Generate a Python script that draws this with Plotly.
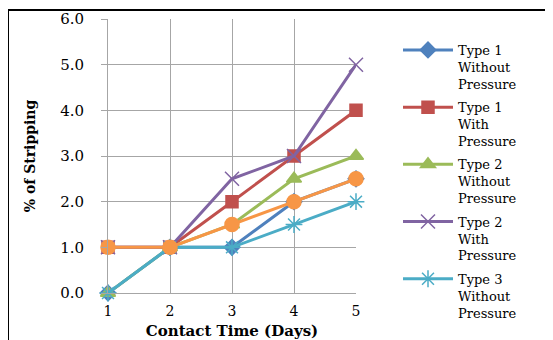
import plotly.graph_objects as go

days = [1, 2, 3, 4, 5]
type1_without = [0, 1, 1, 2, 2.5]
type1_with = [1, 1, 2, 3, 4]
type2_without = [0, 1, 1.5, 2.5, 3]
type2_with = [1, 1, 2.5, 3, 5]
type3_without = [0, 1, 1, 1.5, 2]
type3_with = [1, 1, 1.5, 2, 2.5]
y_ticks = [0, 1, 2, 3, 4, 5, 6]
y_labels = ["0.0", "1.0", "2.0", "3.0", "4.0", "5.0", "6.0"]

series = [
    ("Type 1<br>Without<br>Pressure", type1_without, "#4F81BD", "diamond", 12, True),
    ("Type 1<br>With<br>Pressure", type1_with, "#C0504D", "square", 12, True),
    ("Type 2<br>Without<br>Pressure", type2_without, "#9BBB59", "triangle-up", 13, True),
    ("Type 2<br>With<br>Pressure", type2_with, "#8064A2", "x-thin-open", 14, True),
    ("Type 3<br>Without<br>Pressure", type3_without, "#4BACC6", "asterisk-open", 14, True),
    ("Type 3<br>With<br>Pressure", type3_with, "#F79646", "circle", 14, False),
]

FONT = "DejaVu Serif"
fig = go.Figure()
for i, (name, vals, color, sym, size, show) in enumerate(series):
    fig.add_trace(go.Scatter(
        x=days, y=vals, name=name, mode="lines+markers", legendgroup=f"g{i}",
        line=dict(color=color, width=3),
        marker=dict(symbol=sym, size=size, color=color,
                    line=dict(color=color, width=1.5)),
        showlegend=show, cliponaxis=False,
    ))

# page body has an 8px margin: figure is 8px smaller, screen coords offset by 8
OFF = 8
FW, FH = 553 - OFF, 340 - OFF
L, T, W, H = 108, 19, 248, 274   # plot area in screen pixels


def px(xs):
    return (xs - L) / W


def py(ys):
    return (T + H - ys) / H


# black frame (top and left) of the cropped figure
fig.add_shape(type="line", xref="paper", yref="paper",
              x0=px(8), x1=px(553), y0=py(10), y1=py(10),
              line=dict(color="black", width=2))
fig.add_shape(type="line", xref="paper", yref="paper",
              x0=px(8), x1=px(8), y0=py(10), y1=py(340),
              line=dict(color="black", width=2))

fig.update_layout(
    width=FW, height=FH,
    margin=dict(l=L - OFF, r=FW - (L - OFF) - W, t=T - OFF, b=FH - (T - OFF) - H),
    paper_bgcolor="white", plot_bgcolor="white",
    font=dict(family=FONT, color="black", size=14),
    xaxis=dict(range=[1, 5], tickvals=days, showgrid=True, gridcolor="#A6A6A6",
               gridwidth=1, showline=True, linecolor="#A6A6A6", zeroline=False,
               ticks="", tickfont=dict(size=14), ticklabelstandoff=5, automargin=False,
               title=dict(text="<b>Contact Time (Days)</b>", font=dict(size=15), standoff=8)),
    yaxis=dict(range=[0, 6], tickvals=y_ticks, ticktext=y_labels, showgrid=True,
               gridcolor="#A6A6A6", gridwidth=1, showline=True, linecolor="#A6A6A6",
               zeroline=False, ticks="outside", ticklen=6, tickcolor="#A6A6A6",
               tickfont=dict(size=15), ticklabelstandoff=14, automargin=False,
               title=dict(text="<b>% of Stripping</b>", font=dict(size=14), standoff=21)),
    legend=dict(x=px(398), y=py(35), xanchor="left", yanchor="top",
                font=dict(size=13), itemwidth=50, tracegroupgap=3.5, valign="top",
                maxheight=330, bgcolor="rgba(0,0,0,0)"),
)

fig.write_html("out.html")
